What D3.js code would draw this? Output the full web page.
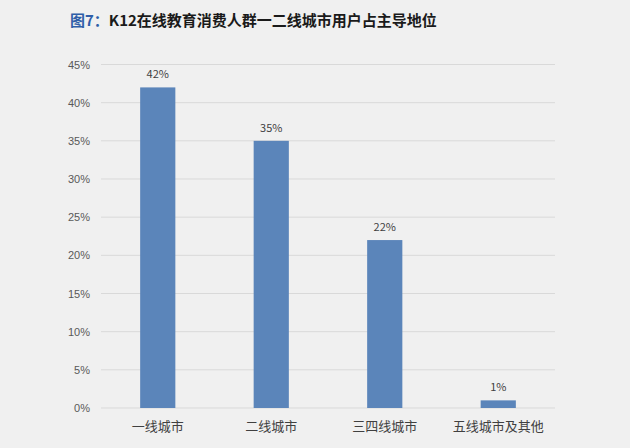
<!DOCTYPE html>
<html lang="zh">
<head>
  <meta charset="UTF-8">
  <title>K12在线教育消费人群</title>
  <script src="https://d3js.org/d3.v7.min.js"></script>
  <style>
    body {
      margin: 0;
      background: #f0f0f0;
      font-family: "Noto Sans CJK SC", "Noto Sans", sans-serif;
    }
    .tick text {
      font-size: 11px;
      fill: #595959;
    }
    .cat-label {
      font-size: 13px;
      fill: #404040;
    }
    .value-label {
      font-size: 11px;
      fill: #404040;
    }
  </style>
</head>
<body>
  <svg width="630" height="448"></svg>
  <script>
    const categories = ["一线城市", "二线城市", "三四线城市", "五线城市及其他"];
    const values = [42, 35, 22, 1];
    const yTicks = [0, 5, 10, 15, 20, 25, 30, 35, 40, 45];

    const margin = {top: 64.5, right: 75, bottom: 40, left: 101},
          width = 630 - margin.left - margin.right,
          height = 408 - margin.top;

    const svg = d3.select("svg");

    svg.append("rect").attr("width", 630).attr("height", 448).attr("fill", "#f0f0f0");

    // title
    const title = svg.append("text")
      .attr("x", 70)
      .attr("y", 26)
      .attr("font-size", 15)
      .attr("font-weight", "bold");
    title.append("tspan").attr("fill", "#2f5ea8").text("图7：");
    title.append("tspan").attr("fill", "#1a1a1a").text("K12在线教育消费人群一二线城市用户占主导地位");

    const g = svg.append("g")
      .attr("transform", `translate(${margin.left},${margin.top})`);

    const x = d3.scaleBand()
      .domain(categories)
      .range([0, width])
      .paddingInner(0.69)
      .paddingOuter(0.345);

    const y = d3.scaleLinear()
      .domain([0, 45])
      .range([height, 0]);

    // gridlines
    g.append("g")
      .selectAll("line")
      .data(yTicks)
      .join("line")
      .attr("x1", 0)
      .attr("x2", width)
      .attr("y1", d => y(d))
      .attr("y2", d => y(d))
      .attr("stroke", "#d9d9d9")
      .attr("stroke-width", 1);

    // y axis labels
    const yAxis = g.append("g")
      .call(d3.axisLeft(y).tickValues(yTicks).tickFormat(d => d + "%").tickSize(0).tickPadding(11));
    yAxis.select(".domain").remove();

    // bars
    g.selectAll(".bar")
      .data(values)
      .join("rect")
      .attr("class", "bar")
      .attr("x", (d, i) => x(categories[i]))
      .attr("width", x.bandwidth())
      .attr("y", d => y(d))
      .attr("height", d => height - y(d))
      .attr("fill", "#5b85ba");

    // value labels
    g.selectAll(".value-label")
      .data(values)
      .join("text")
      .attr("class", "value-label")
      .attr("x", (d, i) => x(categories[i]) + x.bandwidth() / 2)
      .attr("y", d => y(d) - 9)
      .attr("text-anchor", "middle")
      .text(d => d + "%");

    // category labels
    g.selectAll(".cat-label")
      .data(categories)
      .join("text")
      .attr("class", "cat-label")
      .attr("x", d => x(d) + x.bandwidth() / 2)
      .attr("y", height + 23)
      .attr("text-anchor", "middle")
      .text(d => d);
  </script>
</body>
</html>
